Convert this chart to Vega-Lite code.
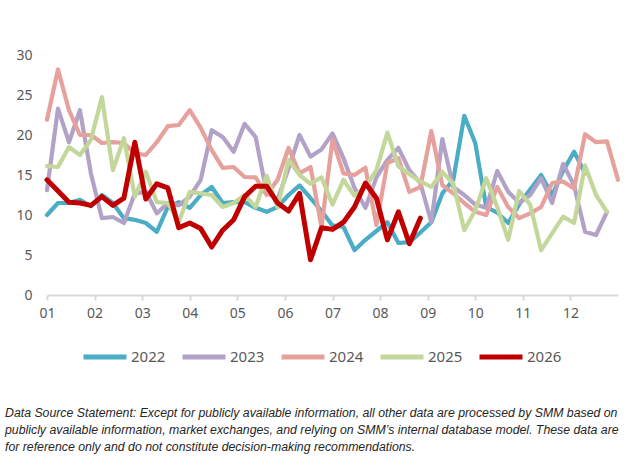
{
  "$schema": "https://vega.github.io/schema/vega-lite/v6.json",
  "width": 571,
  "height": 240,
  "autosize": "none",
  "padding": {"left": 47, "top": 55, "right": 21, "bottom": 181},
  "background": "white",
  "title": {
    "text": [
      "Data Source Statement: Except for publicly available information, all other data are processed by SMM based on",
      "publicly available information, market exchanges, and relying on SMM’s internal database model. These data are",
      "for reference only and do not constitute decision-making recommendations."
    ],
    "orient": "bottom",
    "anchor": "start",
    "frame": "group",
    "dx": -42,
    "offset": 40,
    "font": "Liberation Sans",
    "fontSize": 12.3,
    "fontStyle": "italic",
    "fontWeight": "normal",
    "color": "#262626",
    "lineHeight": 17
  },
  "data": {
    "values": [
      {"year": "2022", "week": 1, "value": 10},
      {"year": "2022", "week": 2, "value": 11.5},
      {"year": "2022", "week": 3, "value": 11.5},
      {"year": "2022", "week": 4, "value": 11.9},
      {"year": "2022", "week": 5, "value": 11.1},
      {"year": "2022", "week": 6, "value": 12.5},
      {"year": "2022", "week": 7, "value": 11.5},
      {"year": "2022", "week": 8, "value": 9.6},
      {"year": "2022", "week": 9, "value": 9.4},
      {"year": "2022", "week": 10, "value": 9.0},
      {"year": "2022", "week": 11, "value": 7.9},
      {"year": "2022", "week": 12, "value": 11},
      {"year": "2022", "week": 13, "value": 11.6},
      {"year": "2022", "week": 14, "value": 10.9},
      {"year": "2022", "week": 15, "value": 12.5},
      {"year": "2022", "week": 16, "value": 13.5},
      {"year": "2022", "week": 17, "value": 11.5},
      {"year": "2022", "week": 18, "value": 11.6},
      {"year": "2022", "week": 19, "value": 11.6},
      {"year": "2022", "week": 20, "value": 10.9},
      {"year": "2022", "week": 21, "value": 10.4},
      {"year": "2022", "week": 22, "value": 11},
      {"year": "2022", "week": 23, "value": 12.5},
      {"year": "2022", "week": 24, "value": 13.7},
      {"year": "2022", "week": 25, "value": 12.1},
      {"year": "2022", "week": 26, "value": 10.5},
      {"year": "2022", "week": 27, "value": 8.7},
      {"year": "2022", "week": 28, "value": 8.5},
      {"year": "2022", "week": 29, "value": 5.6},
      {"year": "2022", "week": 30, "value": 6.9},
      {"year": "2022", "week": 31, "value": 8.0},
      {"year": "2022", "week": 32, "value": 9.1},
      {"year": "2022", "week": 33, "value": 6.5},
      {"year": "2022", "week": 34, "value": 6.6},
      {"year": "2022", "week": 35, "value": 7.8},
      {"year": "2022", "week": 36, "value": 9.1},
      {"year": "2022", "week": 37, "value": 12.7},
      {"year": "2022", "week": 38, "value": 14.4},
      {"year": "2022", "week": 39, "value": 22.4},
      {"year": "2022", "week": 40, "value": 19},
      {"year": "2022", "week": 41, "value": 11},
      {"year": "2022", "week": 42, "value": 10.3},
      {"year": "2022", "week": 43, "value": 9.0},
      {"year": "2022", "week": 44, "value": 11.3},
      {"year": "2022", "week": 45, "value": 13.2},
      {"year": "2022", "week": 46, "value": 15.0},
      {"year": "2022", "week": 47, "value": 12.5},
      {"year": "2022", "week": 48, "value": 15.5},
      {"year": "2022", "week": 49, "value": 17.9},
      {"year": "2022", "week": 50, "value": 15.2},

      {"year": "2023", "week": 1, "value": 13.1},
      {"year": "2023", "week": 2, "value": 23.3},
      {"year": "2023", "week": 3, "value": 19.1},
      {"year": "2023", "week": 4, "value": 23.1},
      {"year": "2023", "week": 5, "value": 15.2},
      {"year": "2023", "week": 6, "value": 9.6},
      {"year": "2023", "week": 7, "value": 9.75},
      {"year": "2023", "week": 8, "value": 9.0},
      {"year": "2023", "week": 9, "value": 12.7},
      {"year": "2023", "week": 10, "value": 12.9},
      {"year": "2023", "week": 11, "value": 10.2},
      {"year": "2023", "week": 12, "value": 11.5},
      {"year": "2023", "week": 13, "value": 11.2},
      {"year": "2023", "week": 14, "value": 12.3},
      {"year": "2023", "week": 15, "value": 14.4},
      {"year": "2023", "week": 16, "value": 20.6},
      {"year": "2023", "week": 17, "value": 19.75},
      {"year": "2023", "week": 18, "value": 17.9},
      {"year": "2023", "week": 19, "value": 21.4},
      {"year": "2023", "week": 20, "value": 19.75},
      {"year": "2023", "week": 21, "value": 12.8},
      {"year": "2023", "week": 22, "value": 12.0},
      {"year": "2023", "week": 23, "value": 15.8},
      {"year": "2023", "week": 24, "value": 20.0},
      {"year": "2023", "week": 25, "value": 17.3},
      {"year": "2023", "week": 26, "value": 18.2},
      {"year": "2023", "week": 27, "value": 20.2},
      {"year": "2023", "week": 28, "value": 17.1},
      {"year": "2023", "week": 29, "value": 13.4},
      {"year": "2023", "week": 30, "value": 10.9},
      {"year": "2023", "week": 31, "value": 14.7},
      {"year": "2023", "week": 32, "value": 16.9},
      {"year": "2023", "week": 33, "value": 18.4},
      {"year": "2023", "week": 34, "value": 15.6},
      {"year": "2023", "week": 35, "value": 14.0},
      {"year": "2023", "week": 36, "value": 9.1},
      {"year": "2023", "week": 37, "value": 19.5},
      {"year": "2023", "week": 38, "value": 13.5},
      {"year": "2023", "week": 39, "value": 12.5},
      {"year": "2023", "week": 40, "value": 11.3},
      {"year": "2023", "week": 41, "value": 10.9},
      {"year": "2023", "week": 42, "value": 15.5},
      {"year": "2023", "week": 43, "value": 12.9},
      {"year": "2023", "week": 44, "value": 11.5},
      {"year": "2023", "week": 45, "value": 12.5},
      {"year": "2023", "week": 46, "value": 14.6},
      {"year": "2023", "week": 47, "value": 11.5},
      {"year": "2023", "week": 48, "value": 16.4},
      {"year": "2023", "week": 49, "value": 13.7},
      {"year": "2023", "week": 50, "value": 7.9},
      {"year": "2023", "week": 51, "value": 7.5},
      {"year": "2023", "week": 52, "value": 10.4},

      {"year": "2024", "week": 1, "value": 21.9},
      {"year": "2024", "week": 2, "value": 28.2},
      {"year": "2024", "week": 3, "value": 23.1},
      {"year": "2024", "week": 4, "value": 20},
      {"year": "2024", "week": 5, "value": 20},
      {"year": "2024", "week": 6, "value": 19},
      {"year": "2024", "week": 7, "value": 19.1},
      {"year": "2024", "week": 8, "value": 19},
      {"year": "2024", "week": 9, "value": 17.7},
      {"year": "2024", "week": 10, "value": 17.5},
      {"year": "2024", "week": 11, "value": 19.1},
      {"year": "2024", "week": 12, "value": 21.1},
      {"year": "2024", "week": 13, "value": 21.25},
      {"year": "2024", "week": 14, "value": 23.1},
      {"year": "2024", "week": 15, "value": 20.9},
      {"year": "2024", "week": 16, "value": 18.1},
      {"year": "2024", "week": 17, "value": 15.9},
      {"year": "2024", "week": 18, "value": 16},
      {"year": "2024", "week": 19, "value": 14.75},
      {"year": "2024", "week": 20, "value": 14.7},
      {"year": "2024", "week": 21, "value": 12.5},
      {"year": "2024", "week": 22, "value": 14.4},
      {"year": "2024", "week": 23, "value": 18.4},
      {"year": "2024", "week": 24, "value": 15.2},
      {"year": "2024", "week": 25, "value": 16},
      {"year": "2024", "week": 26, "value": 8.5},
      {"year": "2024", "week": 27, "value": 19.4},
      {"year": "2024", "week": 28, "value": 15.2},
      {"year": "2024", "week": 29, "value": 15},
      {"year": "2024", "week": 30, "value": 15.9},
      {"year": "2024", "week": 31, "value": 8.75},
      {"year": "2024", "week": 32, "value": 16.5},
      {"year": "2024", "week": 33, "value": 17.1},
      {"year": "2024", "week": 34, "value": 12.9},
      {"year": "2024", "week": 35, "value": 13.5},
      {"year": "2024", "week": 36, "value": 20.5},
      {"year": "2024", "week": 37, "value": 13.75},
      {"year": "2024", "week": 38, "value": 12.7},
      {"year": "2024", "week": 39, "value": 11.5},
      {"year": "2024", "week": 40, "value": 10.4},
      {"year": "2024", "week": 41, "value": 10},
      {"year": "2024", "week": 42, "value": 13.5},
      {"year": "2024", "week": 43, "value": 11},
      {"year": "2024", "week": 44, "value": 9.6},
      {"year": "2024", "week": 45, "value": 10.2},
      {"year": "2024", "week": 46, "value": 11},
      {"year": "2024", "week": 47, "value": 14},
      {"year": "2024", "week": 48, "value": 14.2},
      {"year": "2024", "week": 49, "value": 13.3},
      {"year": "2024", "week": 50, "value": 20.1},
      {"year": "2024", "week": 51, "value": 19.1},
      {"year": "2024", "week": 52, "value": 19.2},
      {"year": "2024", "week": 53, "value": 14.4},

      {"year": "2025", "week": 1, "value": 16.1},
      {"year": "2025", "week": 2, "value": 16},
      {"year": "2025", "week": 3, "value": 18.5},
      {"year": "2025", "week": 4, "value": 17.5},
      {"year": "2025", "week": 5, "value": 19.4},
      {"year": "2025", "week": 6, "value": 24.75},
      {"year": "2025", "week": 7, "value": 15.6},
      {"year": "2025", "week": 8, "value": 19.6},
      {"year": "2025", "week": 9, "value": 12.3},
      {"year": "2025", "week": 10, "value": 15.4},
      {"year": "2025", "week": 11, "value": 11.6},
      {"year": "2025", "week": 12, "value": 11.5},
      {"year": "2025", "week": 13, "value": 9.1},
      {"year": "2025", "week": 14, "value": 12.9},
      {"year": "2025", "week": 15, "value": 12.7},
      {"year": "2025", "week": 16, "value": 12.5},
      {"year": "2025", "week": 17, "value": 11},
      {"year": "2025", "week": 18, "value": 11.5},
      {"year": "2025", "week": 19, "value": 12.5},
      {"year": "2025", "week": 20, "value": 11},
      {"year": "2025", "week": 21, "value": 14.9},
      {"year": "2025", "week": 22, "value": 10.9},
      {"year": "2025", "week": 23, "value": 16.9},
      {"year": "2025", "week": 24, "value": 15},
      {"year": "2025", "week": 25, "value": 13.9},
      {"year": "2025", "week": 26, "value": 14.7},
      {"year": "2025", "week": 27, "value": 11.3},
      {"year": "2025", "week": 28, "value": 14.4},
      {"year": "2025", "week": 29, "value": 12.4},
      {"year": "2025", "week": 30, "value": 13.5},
      {"year": "2025", "week": 31, "value": 15.6},
      {"year": "2025", "week": 32, "value": 20.3},
      {"year": "2025", "week": 33, "value": 16.1},
      {"year": "2025", "week": 34, "value": 15.1},
      {"year": "2025", "week": 35, "value": 14.2},
      {"year": "2025", "week": 36, "value": 13.5},
      {"year": "2025", "week": 37, "value": 15.4},
      {"year": "2025", "week": 38, "value": 13.9},
      {"year": "2025", "week": 39, "value": 8.1},
      {"year": "2025", "week": 40, "value": 10.6},
      {"year": "2025", "week": 41, "value": 14.6},
      {"year": "2025", "week": 42, "value": 11},
      {"year": "2025", "week": 43, "value": 6.9},
      {"year": "2025", "week": 44, "value": 13},
      {"year": "2025", "week": 45, "value": 11.3},
      {"year": "2025", "week": 46, "value": 5.6},
      {"year": "2025", "week": 47, "value": 7.7},
      {"year": "2025", "week": 48, "value": 9.8},
      {"year": "2025", "week": 49, "value": 9},
      {"year": "2025", "week": 50, "value": 16.2},
      {"year": "2025", "week": 51, "value": 12.5},
      {"year": "2025", "week": 52, "value": 10.4},

      {"year": "2026", "week": 1, "value": 14.4},
      {"year": "2026", "week": 2, "value": 13.0},
      {"year": "2026", "week": 3, "value": 11.6},
      {"year": "2026", "week": 4, "value": 11.5},
      {"year": "2026", "week": 5, "value": 11.2},
      {"year": "2026", "week": 6, "value": 12.3},
      {"year": "2026", "week": 7, "value": 11.2},
      {"year": "2026", "week": 8, "value": 12.1},
      {"year": "2026", "week": 9, "value": 19.1},
      {"year": "2026", "week": 10, "value": 12.0},
      {"year": "2026", "week": 11, "value": 13.9},
      {"year": "2026", "week": 12, "value": 13.4},
      {"year": "2026", "week": 13, "value": 8.4},
      {"year": "2026", "week": 14, "value": 9.0},
      {"year": "2026", "week": 15, "value": 8.3},
      {"year": "2026", "week": 16, "value": 6.0},
      {"year": "2026", "week": 17, "value": 8.1},
      {"year": "2026", "week": 18, "value": 9.4},
      {"year": "2026", "week": 19, "value": 12.3},
      {"year": "2026", "week": 20, "value": 13.6},
      {"year": "2026", "week": 21, "value": 13.6},
      {"year": "2026", "week": 22, "value": 11.5},
      {"year": "2026", "week": 23, "value": 10.5},
      {"year": "2026", "week": 24, "value": 12.7},
      {"year": "2026", "week": 25, "value": 4.4},
      {"year": "2026", "week": 26, "value": 8.4},
      {"year": "2026", "week": 27, "value": 8.2},
      {"year": "2026", "week": 28, "value": 9.1},
      {"year": "2026", "week": 29, "value": 11.0},
      {"year": "2026", "week": 30, "value": 14.0},
      {"year": "2026", "week": 31, "value": 12.1},
      {"year": "2026", "week": 32, "value": 6.9},
      {"year": "2026", "week": 33, "value": 10.4},
      {"year": "2026", "week": 34, "value": 6.4},
      {"year": "2026", "week": 35, "value": 9.6}
    ]
  },
  "mark": {"type": "line", "strokeJoin": "round", "strokeCap": "round"},
  "encoding": {
    "x": {
      "field": "week",
      "type": "quantitative",
      "scale": {"domain": [1, 53], "nice": false, "zero": false},
      "axis": {
        "title": null,
        "grid": false,
        "values": [1, 5.3333, 9.6667, 14, 18.3333, 22.6667, 27, 31.3333, 35.6667, 40, 44.3333, 48.6667],
        "labelExpr": "format(round((datum.value - 1) * 12 / 52) + 1, '02d')",
        "domainColor": "#d9d9d9",
        "domainWidth": 2,
        "tickColor": "#d9d9d9",
        "tickWidth": 2,
        "tickSize": 5,
        "labelFont": "Noto Sans",
        "labelFontSize": 14,
        "labelColor": "#595959",
        "labelPadding": 6,
        "labelFlush": false
      }
    },
    "y": {
      "field": "value",
      "type": "quantitative",
      "scale": {"domain": [0, 30], "nice": false},
      "axis": {
        "title": null,
        "grid": false,
        "domain": false,
        "ticks": false,
        "values": [0, 5, 10, 15, 20, 25, 30],
        "labelFont": "Noto Sans",
        "labelFontSize": 14,
        "labelColor": "#595959",
        "labelPadding": 15
      }
    },
    "color": {
      "field": "year",
      "type": "nominal",
      "scale": {
        "domain": ["2022", "2023", "2024", "2025", "2026"],
        "range": ["#4BACC6", "#B3A2C7", "#E6A19D", "#C4D79B", "#C00000"]
      },
      "legend": {
        "title": null,
        "orient": "none",
        "legendX": 34,
        "legendY": 278,
        "direction": "horizontal",
        "padding": 0,
        "symbolType": "stroke",
        "symbolSize": 1849,
        "symbolStrokeWidth": 5,
        "labelFont": "Noto Sans",
        "labelFontSize": 15,
        "labelColor": "#595959",
        "labelOffset": 2,
        "columnPadding": 6
      }
    },
    "strokeWidth": {
      "condition": {"test": "datum.year === '2026'", "value": 5},
      "value": 4.2
    }
  },
  "config": {"view": {"stroke": null}}
}
